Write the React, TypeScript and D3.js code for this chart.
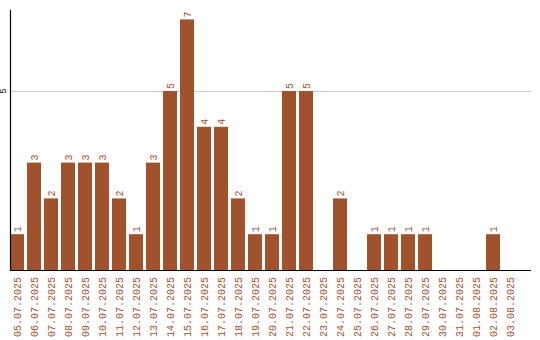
import React from "react";
import * as d3 from "d3";

const dates = [
  "05.07.2025","06.07.2025","07.07.2025","08.07.2025","09.07.2025","10.07.2025",
  "11.07.2025","12.07.2025","13.07.2025","14.07.2025","15.07.2025","16.07.2025",
  "17.07.2025","18.07.2025","19.07.2025","20.07.2025","21.07.2025","22.07.2025",
  "23.07.2025","24.07.2025","25.07.2025","26.07.2025","27.07.2025","28.07.2025",
  "29.07.2025","30.07.2025","31.07.2025","01.08.2025","02.08.2025","03.08.2025",
];
const counts = [1,3,2,3,3,3,2,1,3,5,7,4,4,2,1,1,5,5,0,2,0,1,1,1,1,0,0,0,1,0];
const yTicks = [5];

const W = 540, H = 340;
const left = 10, baseY = 270, topY = 10, axisRight = 531;
const color = "#a0522d";
const font = "'Liberation Mono', monospace";

export default function App() {
  const x = d3.scaleBand<string>().domain(dates).range([left, 517]).paddingInner(3 / 17).paddingOuter(0);
  const y = d3.scaleLinear().domain([0, 5]).range([baseY, 91]);
  return (
    <svg width={W} height={H} style={{ position: "absolute", left: 0, top: 0 }}>
      {yTicks.map((t) => (
        <g key={t}>
          <line x1={left} x2={axisRight} y1={y(t) + 0.5} y2={y(t) + 0.5} stroke="#cccccc" strokeWidth={1} />
          <text transform={`translate(6,${y(t)}) rotate(-90)`} textAnchor="middle" fontSize={9} fontFamily={font} fill="#000">{t}</text>
        </g>
      ))}
      {dates.map((d, i) => {
        const v = counts[i];
        const cx = (x(d) as number) + x.bandwidth() / 2;
        return (
          <g key={d}>
            {v > 0 && (
              <rect x={x(d)} y={y(v)} width={x.bandwidth()} height={baseY - y(v)} fill={color} />
            )}
            {v > 0 && (
              <text transform={`translate(${cx + 3.5},${y(v) - 2}) rotate(-90)`} textAnchor="start" fontSize={10} fontFamily={font} fill={color}>{v}</text>
            )}
            <text transform={`translate(${cx + 3.5},277) rotate(-90)`} textAnchor="end" fontSize={10} fontFamily={font} fill={color}>{d}</text>
          </g>
        );
      })}
      <line x1={left + 0.5} x2={left + 0.5} y1={topY} y2={baseY + 1} stroke="#000" strokeWidth={1.2} />
      <line x1={left} x2={axisRight} y1={baseY + 0.5} y2={baseY + 0.5} stroke="#000" strokeWidth={1.2} />
    </svg>
  );
}
